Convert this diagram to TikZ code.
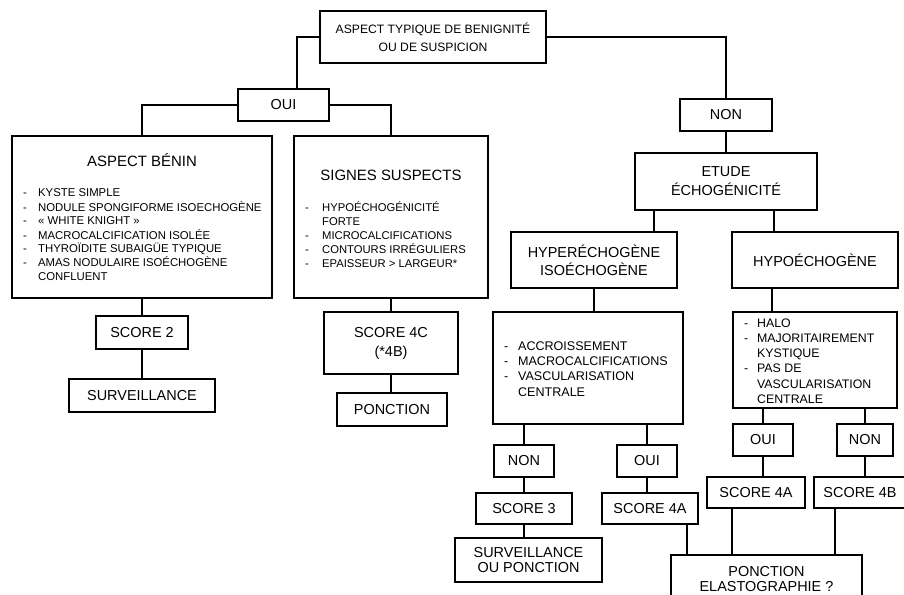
\documentclass[tikz,border=0pt]{standalone}
\usepackage{fontspec}
\setmainfont{Liberation Sans}
\newcommand{\liste}[2][15pt]{\begin{tabular}[t]{@{}p{#1}@{}l@{}}#2\end{tabular}}
\tikzset{
  boite/.style={draw, line width=2bp, inner sep=0pt, align=center, font=\fontsize{14.5}{17}\selectfont},
  trait/.style={line width=2bp},
  titre/.style={inner sep=0pt, anchor=base, font=\fontsize{15}{18}\selectfont},
  items/.style={inner sep=0pt, anchor=base west}
}
\begin{document}
\begin{tikzpicture}[x=1bp,y=-1bp]
        \useasboundingbox (0,0) rectangle (904,595);
        \fill[white] (0,0) rectangle (904,595);
        \clip (0,0) rectangle (904,595);

        \node[boite, minimum width=226bp, minimum height=52bp, font=\fontsize{12.2}{18}\selectfont] (top) at (433,37) {ASPECT TYPIQUE DE BENIGNITÉ\\OU DE SUSPICION};
        \node[boite, minimum width=91bp, minimum height=32bp] (oui1) at (283.5,105) {OUI};
        \node[boite, minimum width=92bp, minimum height=32bp] (non1) at (726,115) {NON};

        \node[boite, minimum width=260bp, minimum height=162bp] (benin) at (142,217) {};
        \node[titre] (beninT) at (142,166.5) {ASPECT BÉNIN};
        \node[items, font=\fontsize{11.4}{14}\selectfont] (beninL) at (23,197) {\liste{- & KYSTE SIMPLE\\ - & NODULE SPONGIFORME ISOECHOGÈNE\\ - & « WHITE KNIGHT »\\ - & MACROCALCIFICATION ISOLÉE\\ - & THYROÏDITE SUBAIGÜE TYPIQUE\\ - & AMAS NODULAIRE ISOÉCHOGÈNE\\ & CONFLUENT}};

        \node[boite, minimum width=194bp, minimum height=162bp] (signes) at (391,217) {};
        \node[titre] (signesT) at (391,180.5) {SIGNES SUSPECTS};
        \node[items, font=\fontsize{11.3}{13.8}\selectfont] (signesL) at (305,212) {\liste[17pt]{- & HYPOÉCHOGÉNICITÉ\\ & FORTE\\ - & MICROCALCIFICATIONS\\ - & CONTOURS IRRÉGULIERS\\ - & EPAISSEUR > LARGEUR*}};

        \node[boite, minimum width=92bp, minimum height=33bp] (score2) at (142,332.5) {SCORE 2};
        \node[boite, minimum width=146bp, minimum height=33bp] (surv) at (142,395.5) {SURVEILLANCE};
        \node[boite, minimum width=134bp, minimum height=62bp, font=\fontsize{14.5}{19}\selectfont] (score4c) at (391,343) {SCORE 4C\\(*4B)};
        \node[boite, minimum width=110bp, minimum height=33bp] (ponc1) at (392,409.5) {PONCTION};

        \node[boite, minimum width=182bp, minimum height=57bp, font=\fontsize{14.5}{19}\selectfont] (etude) at (726,181.5) {ETUDE\\ÉCHOGÉNICITÉ};
        \node[boite, minimum width=166bp, minimum height=56bp, font=\fontsize{14.5}{18}\selectfont] (hyper) at (594,260) {HYPERÉCHOGÈNE\\ISOÉCHOGÈNE};
        \node[boite, minimum width=166bp, minimum height=56bp] (hypo) at (815,260) {HYPOÉCHOGÈNE};

        \node[boite, minimum width=190bp, minimum height=112bp] (hyperlist) at (588,368) {};
        \node[items, font=\fontsize{12.6}{15.3}\selectfont] (hyperL) at (504,350.5) {\liste[14pt]{- & ACCROISSEMENT\\ - & MACROCALCIFICATIONS\\ - & VASCULARISATION\\ & CENTRALE}};
        \node[boite, minimum width=164bp, minimum height=96bp] (hypolist) at (815,360) {};
        \node[items, font=\fontsize{12.4}{15.2}\selectfont] (hypoL) at (744,327.5) {\liste[13pt]{- & HALO\\ - & MAJORITAIREMENT\\ & KYSTIQUE\\ - & PAS DE\\ & VASCULARISATION\\ & CENTRALE}};

        \node[boite, minimum width=60bp, minimum height=32bp] (non2) at (524,461) {NON};
        \node[boite, minimum width=60bp, minimum height=32bp] (oui2) at (647,461) {OUI};
        \node[boite, minimum width=96bp, minimum height=31bp] (score3) at (524,508.5) {SCORE 3};
        \node[boite, minimum width=96bp, minimum height=31bp] (score4a1) at (650,508.5) {SCORE 4A};
        \node[boite, minimum width=147bp, minimum height=44bp, font=\fontsize{14.5}{15}\selectfont] (survponc) at (528.5,560) {SURVEILLANCE\\OU PONCTION};

        \node[boite, minimum width=60bp, minimum height=32bp] (oui3) at (763,440) {OUI};
        \node[boite, minimum width=56bp, minimum height=32bp] (non3) at (865,440) {NON};
        \node[boite, minimum width=98bp, minimum height=31bp] (score4a2) at (756,492.5) {SCORE 4A};
        \node[boite, minimum width=92bp, minimum height=31bp] (score4b) at (860,492.5) {SCORE 4B};
        \node[boite, minimum width=191bp, minimum height=48bp, font=\fontsize{14.5}{16}\selectfont] (ponc2) at (766.5,579) {PONCTION\\ELASTOGRAPHIE ?};

        \draw[trait] (top.west) -| ([xshift=13.5bp]oui1.north);
        \draw[trait] (top.east) -| (non1.north);
        \draw[trait] (oui1.west) -| (benin.north);
        \draw[trait] (oui1.east) -| (signes.north);
        \draw[trait] (benin.south) -- (score2.north);
        \draw[trait] (score2.south) -- (surv.north);
        \draw[trait] (signes.south) -- (score4c.north);
        \draw[trait] (score4c.south) -- (score4c.south |- ponc1.north);
        \draw[trait] (non1.south) -- (etude.north);

        \coordinate (e1) at ([xshift=20bp]etude.south west);
        \coordinate (e2) at ([xshift=-44bp]etude.south east);
        \coordinate (h2) at ([xshift=41bp]hypo.south west);
        \draw[trait] (e1) -- (e1 |- hyper.north);
        \draw[trait] (e2) -- (e2 |- hypo.north);
        \draw[trait] (hyper.south) -- (hyper.south |- hyperlist.north);
        \draw[trait] (h2) -- (h2 |- hypolist.north);

        \draw[trait] (non2.north |- hyperlist.south) -- (non2.north);
        \draw[trait] (oui2.north |- hyperlist.south) -- (oui2.north);
        \draw[trait] (non2.south) -- (score3.north);
        \draw[trait] (oui2.south) -- (oui2.south |- score4a1.north);
        \draw[trait] (score3.south) -- (score3.south |- survponc.north);

        \draw[trait] (oui3.north |- hypolist.south) -- (oui3.north);
        \draw[trait] (non3.north |- hypolist.south) -- (non3.north);
        \draw[trait] (oui3.south) -- (oui3.south |- score4a2.north);
        \draw[trait] (non3.south) -- (non3.south |- score4b.north);

        \coordinate (p1) at ([xshift=-12bp]score4a1.south east);
        \coordinate (p2) at ([xshift=26bp]score4a2.south west);
        \coordinate (p3) at ([xshift=22bp]score4b.south west);
        \draw[trait] (p1) -- (p1 |- ponc2.north);
        \draw[trait] (p2) -- (p2 |- ponc2.north);
        \draw[trait] (p3) -- (p3 |- ponc2.north);
\end{tikzpicture}
\end{document}
